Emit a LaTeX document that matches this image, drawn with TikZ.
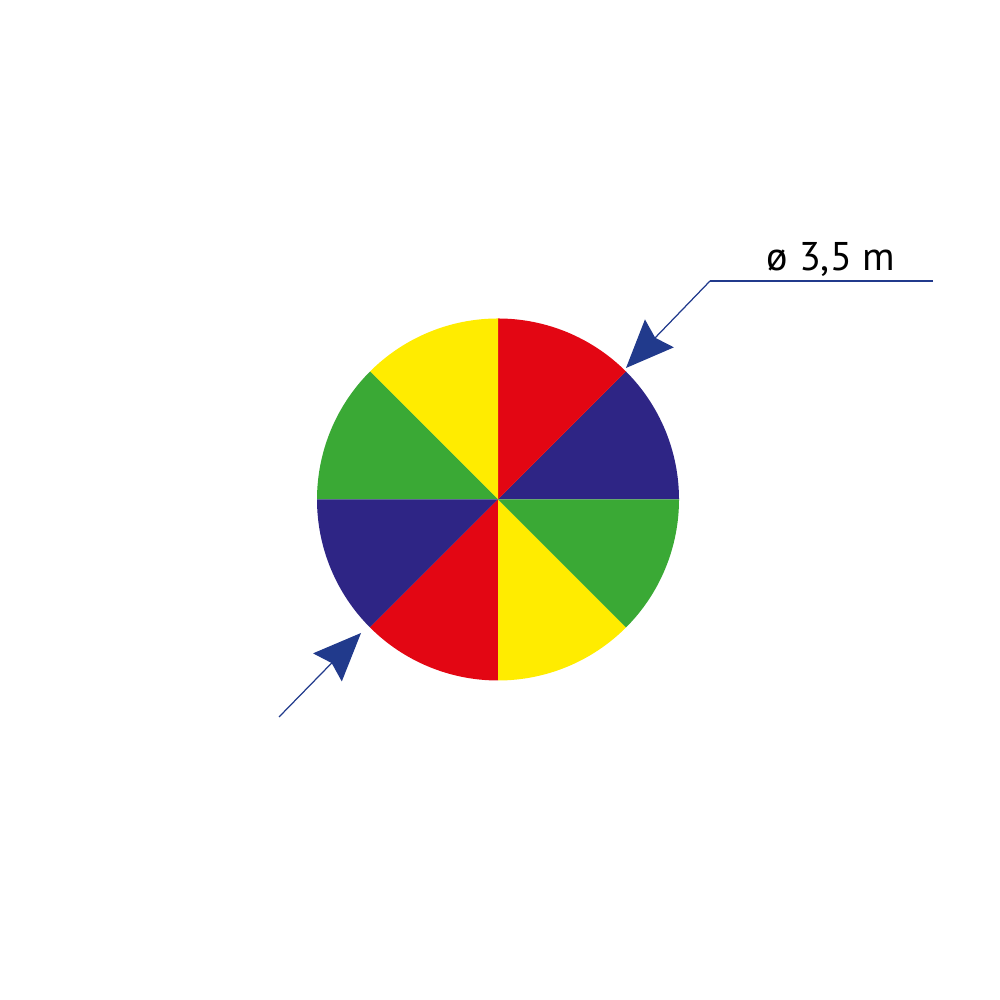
\documentclass[tikz,border=0pt]{standalone}
\usepackage{fontspec}
\setmainfont{PT Sans}
\usepackage{xcolor}
\usetikzlibrary{arrows.meta}

\definecolor{wedgered}{HTML}{E30613}
\definecolor{wedgeblue}{HTML}{2E2585}
\definecolor{wedgegreen}{HTML}{3AA935}
\definecolor{wedgeyellow}{HTML}{FFEC00}
\definecolor{dimblue}{HTML}{213A8C}

\begin{document}
\begin{tikzpicture}
			\useasboundingbox (0,0) rectangle (10,10);
			\coordinate (O) at (4.98,5.005);

			% coloured disc
			\foreach \a/\col in {0/wedgeblue,45/wedgered,90/wedgeyellow,135/wedgegreen,
			                     180/wedgeblue,225/wedgered,270/wedgeyellow,315/wedgegreen}
			    \fill[\col] (O) -- ++(\a:1.81) arc[start angle=\a, end angle=\a+45, radius=1.81] -- cycle;

			\coordinate (Tup) at (6.26,6.32);
			\coordinate (Knee) at (7.10,7.19);
			\coordinate (Rend) at (9.33,7.19);
			\coordinate (Tlow) at (3.61,3.67);
			\coordinate (Slow) at (2.79,2.83);

			\begin{scope}[every node/.style={font=\fontsize{11.4}{13}\selectfont}]
			    \node[anchor=base] (D) at (8.31,7.29) {ø 3,5 m};
			\end{scope}

			\begin{scope}[>={Stealth[length=4.8mm,width=4mm,inset=0.6mm,fill=dimblue]},
			              every path/.style={draw=dimblue,line width=0.35pt}]
			    \path (Rend) -- (Knee);
			    \path [->] (Knee) -- (Tup);
			    \path [->] (Slow) -- (Tlow);
			\end{scope}
\end{tikzpicture}
\end{document}
